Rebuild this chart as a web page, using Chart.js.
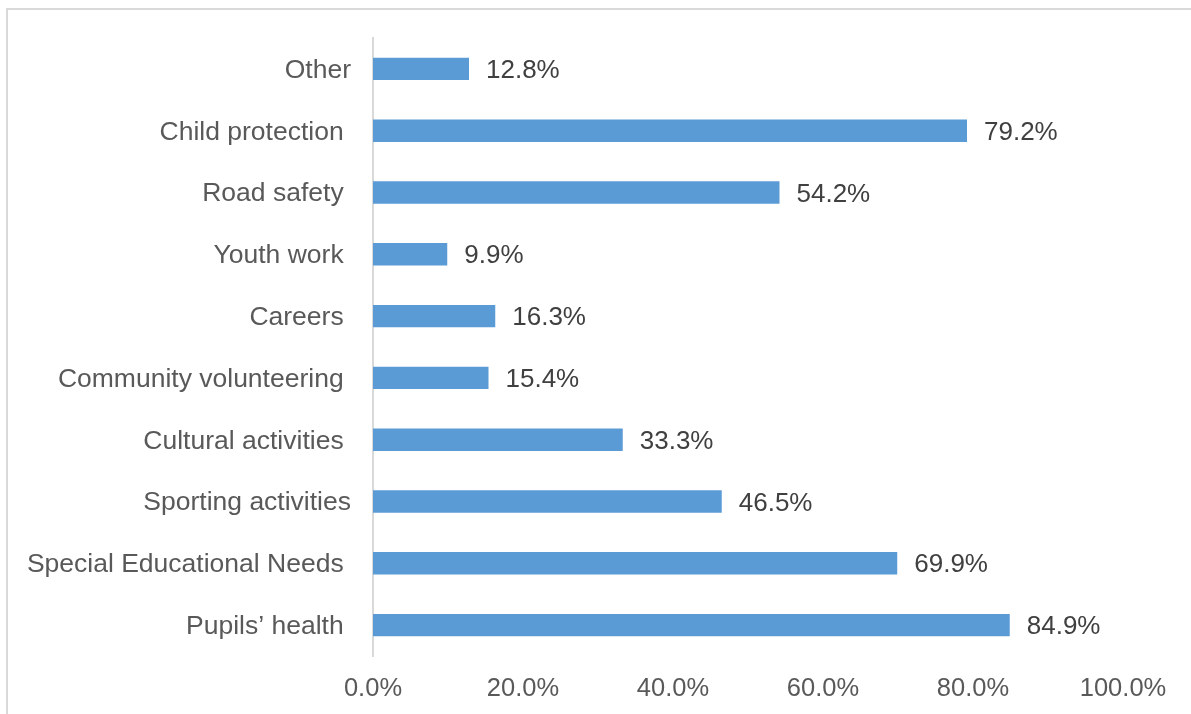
<!DOCTYPE html>
<html>
<head>
<meta charset="utf-8">
<script src="https://cdn.jsdelivr.net/npm/chart.js@4"></script>
<style>
  html, body { margin: 0; padding: 0; background: #ffffff; overflow: hidden; }
  #wrap { position: relative; width: 1191px; height: 714px; }
  #frame {
    position: absolute; left: 6px; top: 8px; width: 1200px; height: 720px;
    border: 2px solid #d9d9d9; box-sizing: border-box; pointer-events: none;
  }
  canvas { position: absolute; left: 0; top: 0; }
</style>
</head>
<body>
<div id="wrap">
  <canvas id="chart" width="1191" height="714"></canvas>
  <div id="frame"></div>
</div>
<script>
// Survey topics (top to bottom) and share of respondents, in percent
const categories = [
  "Other",
  "Child protection ",
  "Road safety ",
  "Youth work ",
  "Careers ",
  "Community volunteering ",
  "Cultural activities ",
  "Sporting activities",
  "Special Educational Needs ",
  "Pupils\u2019 health "
];
const shares = [12.8, 79.2, 54.2, 9.9, 16.3, 15.4, 33.3, 46.5, 69.9, 84.9];
const axisTicks = [0, 20, 40, 60, 80, 100];

const FONT = "'Liberation Sans', Arial, Helvetica, sans-serif";
const pct = v => Number(v).toFixed(1) + "%";

// Writes each bar's value just past its end
const valueLabels = {
  id: "valueLabels",
  afterDatasetsDraw(chart) {
    const ctx = chart.ctx;
    const meta = chart.getDatasetMeta(0);
    ctx.save();
    ctx.font = "26px " + FONT;
    ctx.fillStyle = "#404040";
    ctx.textAlign = "left";
    ctx.textBaseline = "middle";
    meta.data.forEach((bar, i) => {
      ctx.fillText(pct(chart.data.datasets[0].data[i]), bar.x + 17, bar.y + 2);
    });
    ctx.restore();
  }
};

new Chart(document.getElementById("chart"), {
  type: "bar",
  data: {
    labels: categories,
    datasets: [{
      data: shares,
      backgroundColor: "#5b9bd5",
      borderWidth: 0,
      categoryPercentage: 1,
      barPercentage: 0.362
    }]
  },
  options: {
    indexAxis: "y",
    responsive: false,
    animation: false,
    devicePixelRatio: 1,
    layout: { padding: { left: 0, top: 38, right: 68, bottom: 0 } },
    plugins: { legend: { display: false }, tooltip: { enabled: false } },
    scales: {
      x: {
        min: 0,
        max: 100,
        afterBuildTicks(scale) { scale.ticks = axisTicks.map(v => ({ value: v })); },
        afterFit(scale) { scale.height = 58; },
        grid: { display: false, drawTicks: false },
        border: { display: false },
        ticks: {
          padding: 18,
          color: "#595959",
          font: { family: FONT, size: 25.5 },
          callback: v => pct(v),
          maxRotation: 0
        }
      },
      y: {
        afterFit(scale) { scale.width = 373; },
        grid: { display: false, drawTicks: false },
        border: { display: true, color: "#d9d9d9", width: 2 },
        ticks: {
          padding: 22,
          labelOffset: 1.5,
          color: "#595959",
          font: { family: FONT, size: 26.5 },
          autoSkip: false
        }
      }
    }
  },
  plugins: [valueLabels]
});
</script>
</body>
</html>
